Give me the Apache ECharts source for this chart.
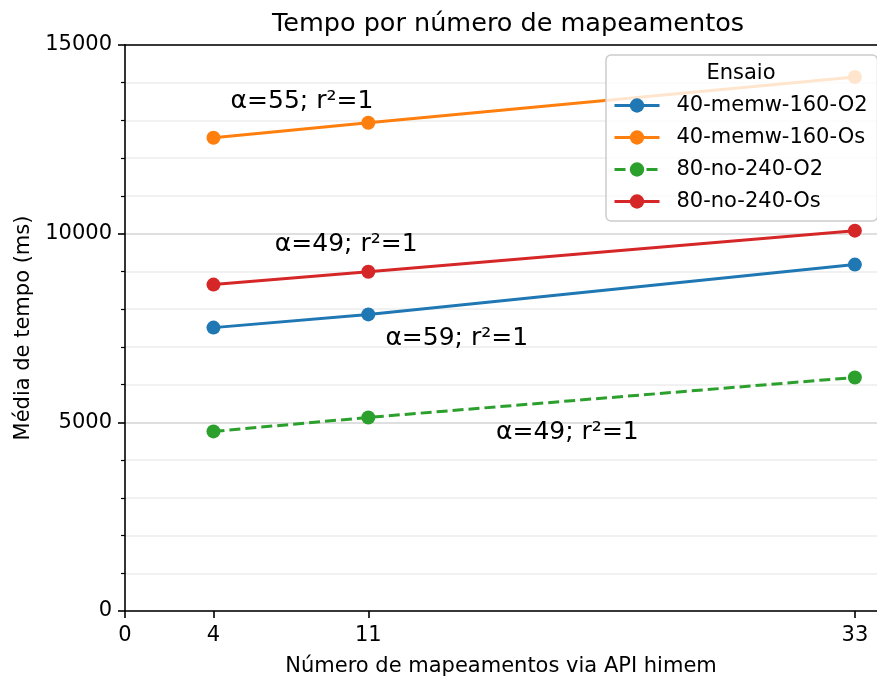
<!DOCTYPE html>
<html>
<head>
<meta charset="utf-8">
<script src="https://cdn.jsdelivr.net/npm/echarts@6/dist/echarts.min.js"></script>
<style>html,body{margin:0;padding:0;background:#fff}#c{width:877px;height:682px}</style>
</head>
<body>
<div id="c"></div>
<script>
var xValues = [4, 11, 33];
var xTicks = [0, 4, 11, 33];
var seriesNames = ['40-memw-160-O2', '40-memw-160-Os', '80-no-240-O2', '80-no-240-Os'];
var memw160O2 = [7510, 7860, 9180];
var memw160Os = [12540, 12940, 14150];
var no240O2 = [4760, 5130, 6190];
var no240Os = [8650, 8990, 10080];
var annotTexts = ['α=55; r²=1', 'α=49; r²=1', 'α=59; r²=1', 'α=49; r²=1'];
var annotX = [8, 10, 15, 20];
var annotY = [13490, 9710, 7220, 4735];

var colors = ['#1f77b4', '#ff7f0e', '#2ca02c', '#d62728'];
var values = [memw160O2, memw160Os, no240O2, no240Os];
var FONT = 'DejaVu Sans';

var lineSeries = seriesNames.map(function (n, i) {
  return {
    name: n,
    type: 'line',
    data: xValues.map(function (x, j) { return [x, values[i][j]]; }),
    symbol: 'circle',
    symbolSize: 14,
    showSymbol: true,
    itemStyle: { color: colors[i] },
    lineStyle: { color: colors[i], width: 3, type: i === 2 ? [11, 5] : 'solid' },
    z: 3
  };
});

var annotSeries = {
  name: 'annot',
  type: 'scatter',
  symbolSize: 0,
  silent: true,
  itemStyle: { opacity: 1 },
  data: annotTexts.map(function (t, i) { return { name: t, value: [annotX[i], annotY[i]] }; }),
  label: {
    show: true, position: 'inside', formatter: function (p) { return p.name; },
    color: '#000', opacity: 1, fontFamily: FONT, fontSize: 25
  },
  z: 4
};

var chart = echarts.init(document.getElementById('c'));
chart.setOption({
  animation: false,
  backgroundColor: '#fff',
  textStyle: { fontFamily: FONT },
  title: {
    text: 'Tempo por número de mapeamentos',
    left: 267, top: 6,
    textStyle: { fontFamily: FONT, fontSize: 25.5, fontWeight: 'normal', color: '#000' }
  },
  grid: { left: 125, right: 0, top: 45, bottom: 70, containLabel: false },
  legend: {
    data: seriesNames,
    orient: 'vertical',
    left: 606, top: 55,
    padding: [40, 10, 9, 7],
    itemWidth: 45, itemHeight: 18, itemGap: 11,
    lineStyle: { width: 3 },
    backgroundColor: 'rgba(255,255,255,0.8)',
    borderColor: '#cccccc', borderWidth: 1.5, borderRadius: 5,
    textStyle: { fontFamily: FONT, fontSize: 21, color: '#000', padding: [0, 0, 0, 12] },
    z: 10
  },
  graphic: [{
    type: 'text', x: 741, y: 74, z: 100,
    style: { text: 'Ensaio', fontFamily: FONT, fontSize: 21, fill: '#000', align: 'center', verticalAlign: 'middle', textAlign: 'center', textVerticalAlign: 'middle' }
  }],
  xAxis: [{
    type: 'value', min: 0, max: 34,
    name: 'Número de mapeamentos via API himem',
    nameLocation: 'middle', nameGap: 45,
    nameTextStyle: { fontFamily: FONT, fontSize: 21, color: '#000' },
    axisLine: { show: true, onZero: false, lineStyle: { color: '#000', width: 1.6 } },
    axisTick: { show: true, length: 7, customValues: xTicks, lineStyle: { color: '#000', width: 1.6 } },
    axisLabel: { show: true, customValues: xTicks, margin: 14, fontFamily: FONT, fontSize: 21, color: '#000' },
    splitLine: { show: false }
  }, {
    type: 'value', min: 0, max: 34, position: 'top',
    axisLine: { show: true, onZero: false, lineStyle: { color: '#000', width: 1.6 } },
    axisTick: { show: false }, axisLabel: { show: false }, splitLine: { show: false }
  }],
  yAxis: {
    type: 'value', min: 0, max: 15000, interval: 5000,
    name: 'Média de tempo (ms)',
    nameLocation: 'middle', nameGap: 91,
    nameTextStyle: { fontFamily: FONT, fontSize: 21, color: '#000' },
    axisLine: { show: true, onZero: false, lineStyle: { color: '#000', width: 1.6 } },
    axisTick: { show: true, length: 7, lineStyle: { color: '#000', width: 1.6 } },
    minorTick: { show: true, splitNumber: 5, length: 4, lineStyle: { color: '#000', width: 1.2 } },
    axisLabel: { margin: 13, fontFamily: FONT, fontSize: 21, color: '#000', formatter: function (v) { return String(v); } },
    splitLine: { show: true, lineStyle: { color: '#d4d4d4', width: 1.6 } },
    minorSplitLine: { show: true, lineStyle: { color: '#ececec', width: 1.6 } }
  },
  series: lineSeries.concat([annotSeries])
});
</script>
</body>
</html>
